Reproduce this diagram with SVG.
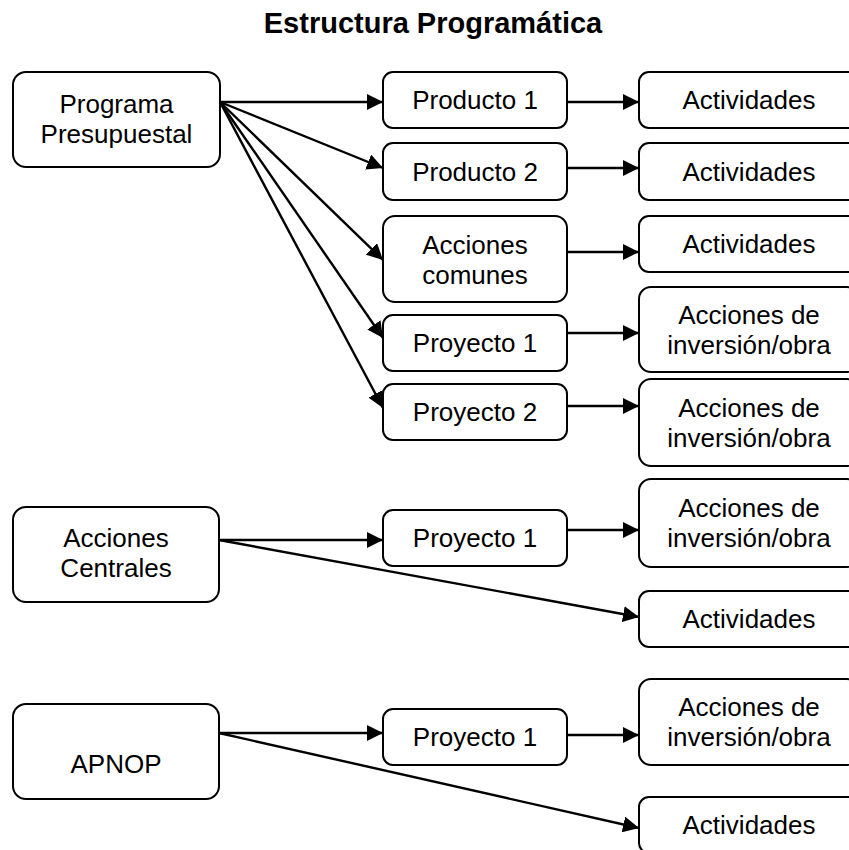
<svg xmlns="http://www.w3.org/2000/svg" width="849" height="850" viewBox="0 0 849 850">
<style>
  .box { fill: #ffffff; stroke: #000000; stroke-width: 2; }
  .lbl { font-family: "Liberation Sans", Arial, sans-serif; font-size: 26px; fill: #000000; text-anchor: middle; }
  .title { font-family: "Liberation Sans", Arial, sans-serif; font-size: 29px; font-weight: bold; fill: #000000; text-anchor: middle; }
  .conn { stroke: #000000; stroke-width: 2.4; fill: none; marker-end: url(#ah); }
</style>
<defs>
  <marker id="ah" markerUnits="userSpaceOnUse" markerWidth="16" markerHeight="16" refX="16" refY="8" orient="auto">
    <path d="M0,0 L16,8 L0,16 z" fill="#000000"/>
  </marker>
</defs>
<rect width="849" height="850" fill="#ffffff"/>
<text class="title" x="433" y="33">Estructura Programática</text>

<g id="connectors">
  <line class="conn" x1="220" y1="102" x2="383" y2="102"/>
  <line class="conn" x1="220" y1="102" x2="383" y2="168"/>
  <line class="conn" x1="220" y1="102" x2="383" y2="260"/>
  <line class="conn" x1="220" y1="102" x2="383" y2="338"/>
  <line class="conn" x1="220" y1="102" x2="383" y2="408"/>
  <line class="conn" x1="567" y1="102" x2="639" y2="102"/>
  <line class="conn" x1="567" y1="168" x2="639" y2="168"/>
  <line class="conn" x1="567" y1="252" x2="639" y2="252"/>
  <line class="conn" x1="567" y1="333" x2="639" y2="333"/>
  <line class="conn" x1="567" y1="406" x2="639" y2="406"/>
  <line class="conn" x1="219" y1="540" x2="383" y2="540"/>
  <line class="conn" x1="219" y1="540" x2="639" y2="617"/>
  <line class="conn" x1="567" y1="530" x2="639" y2="530"/>
  <line class="conn" x1="219" y1="733" x2="383" y2="733"/>
  <line class="conn" x1="219" y1="733" x2="639" y2="828"/>
  <line class="conn" x1="567" y1="735" x2="639" y2="735"/>
</g>

<g id="programa">
  <rect class="box" x="13" y="72" width="207" height="95" rx="13"/>
  <text class="lbl" x="116.5" y="113">Programa</text>
  <text class="lbl" x="116.5" y="143">Presupuestal</text>
</g>
<g id="acciones-centrales">
  <rect class="box" x="13" y="507" width="206" height="95" rx="13"/>
  <text class="lbl" x="116" y="547">Acciones</text>
  <text class="lbl" x="116" y="577">Centrales</text>
</g>
<g id="apnop">
  <rect class="box" x="13" y="704" width="206" height="95" rx="13"/>
  <text class="lbl" x="116" y="773">APNOP</text>
</g>

<g id="producto1">
  <rect class="box" x="383" y="72" width="184" height="56" rx="10"/>
  <text class="lbl" x="475" y="109">Producto 1</text>
</g>
<g id="producto2">
  <rect class="box" x="383" y="143" width="184" height="57" rx="10"/>
  <text class="lbl" x="475" y="181">Producto 2</text>
</g>
<g id="acciones-comunes">
  <rect class="box" x="383" y="216" width="184" height="86" rx="12"/>
  <text class="lbl" x="475" y="254">Acciones</text>
  <text class="lbl" x="475" y="284">comunes</text>
</g>
<g id="proyecto1-pp">
  <rect class="box" x="383" y="315" width="184" height="56" rx="10"/>
  <text class="lbl" x="475" y="352">Proyecto 1</text>
</g>
<g id="proyecto2-pp">
  <rect class="box" x="383" y="384" width="184" height="56" rx="10"/>
  <text class="lbl" x="475" y="421">Proyecto 2</text>
</g>
<g id="proyecto1-ac">
  <rect class="box" x="383" y="510" width="184" height="56" rx="10"/>
  <text class="lbl" x="475" y="547">Proyecto 1</text>
</g>
<g id="proyecto1-apnop">
  <rect class="box" x="383" y="709" width="184" height="56" rx="10"/>
  <text class="lbl" x="475" y="746">Proyecto 1</text>
</g>

<g id="actividades1">
  <rect class="box" x="639" y="72" width="220" height="56" rx="10"/>
  <text class="lbl" x="749" y="109">Actividades</text>
</g>
<g id="actividades2">
  <rect class="box" x="639" y="143" width="220" height="57" rx="10"/>
  <text class="lbl" x="749" y="181">Actividades</text>
</g>
<g id="actividades3">
  <rect class="box" x="639" y="216" width="220" height="56" rx="10"/>
  <text class="lbl" x="749" y="253">Actividades</text>
</g>
<g id="inversion1">
  <rect class="box" x="639" y="287" width="220" height="85" rx="12"/>
  <text class="lbl" x="749" y="324">Acciones de</text>
  <text class="lbl" x="749" y="354">inversión/obra</text>
</g>
<g id="inversion2">
  <rect class="box" x="639" y="379" width="220" height="87" rx="12"/>
  <text class="lbl" x="749" y="417">Acciones de</text>
  <text class="lbl" x="749" y="447">inversión/obra</text>
</g>
<g id="inversion3">
  <rect class="box" x="639" y="479" width="220" height="88" rx="12"/>
  <text class="lbl" x="749" y="517">Acciones de</text>
  <text class="lbl" x="749" y="547">inversión/obra</text>
</g>
<g id="actividades4">
  <rect class="box" x="639" y="591" width="220" height="56" rx="10"/>
  <text class="lbl" x="749" y="628">Actividades</text>
</g>
<g id="inversion4">
  <rect class="box" x="639" y="679" width="220" height="86" rx="12"/>
  <text class="lbl" x="749" y="716">Acciones de</text>
  <text class="lbl" x="749" y="746">inversión/obra</text>
</g>
<g id="actividades5">
  <rect class="box" x="639" y="797" width="220" height="56" rx="10"/>
  <text class="lbl" x="749" y="834">Actividades</text>
</g>
</svg>
